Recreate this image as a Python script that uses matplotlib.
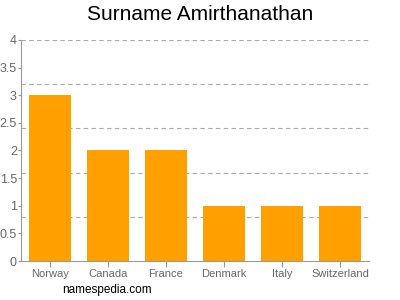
import matplotlib
matplotlib.use("Agg")
import matplotlib.pyplot as plt

countries = ["Norway", "Canada", "France", "Denmark", "Italy", "Switzerland"]
counts = [3, 2, 2, 1, 1, 1]
yticks = [0, 0.5, 1, 1.5, 2, 2.5, 3, 3.5, 4]
ytick_labels = ["0", "0.5", "1", "1.5", "2", "2.5", "3", "3.5", "4"]
grid_levels = [0.8, 1.6, 2.4, 3.2, 4.0]

plt.rcParams['font.family'] = ['Liberation Sans', 'DejaVu Sans']

fig = plt.figure(figsize=(4, 3), dpi=100)
ax = fig.add_axes([0.0525, 0.13, 0.87, 0.7367])

x = list(range(len(countries)))
ax.bar(x, counts, width=0.74, color="#ffa000", zorder=2)

for g in grid_levels:
    ax.axhline(g, color="#aaaaaa", linestyle=(0, (4, 3)), linewidth=0.8, zorder=1)

ax.set_xlim(-0.5, 5.5)
ax.set_ylim(0, 4)
ax.set_yticks(yticks)
ax.set_yticklabels(ytick_labels)
ax.set_xticks(x)
ax.set_xticklabels(countries)

for s in ["top", "right"]:
    ax.spines[s].set_visible(False)
for s in ["left", "bottom"]:
    ax.spines[s].set_color("#999999")
    ax.spines[s].set_linewidth(0.8)

ax.tick_params(axis="both", colors="#999999", labelcolor="#666666", width=0.8)
ax.tick_params(axis="y", labelsize=9, length=2.5, pad=0.5)
ax.tick_params(axis="x", labelsize=8, length=4, pad=2)

fig.text(0.5, 0.95, "Surname Amirthanathan", ha="center", va="center", fontsize=15, color="#000000")
fig.text(0.268, 0.032, "namespedia.com", ha="center", va="center", fontsize=8.5, color="#000000")

fig.savefig("out.png", dpi=100)
